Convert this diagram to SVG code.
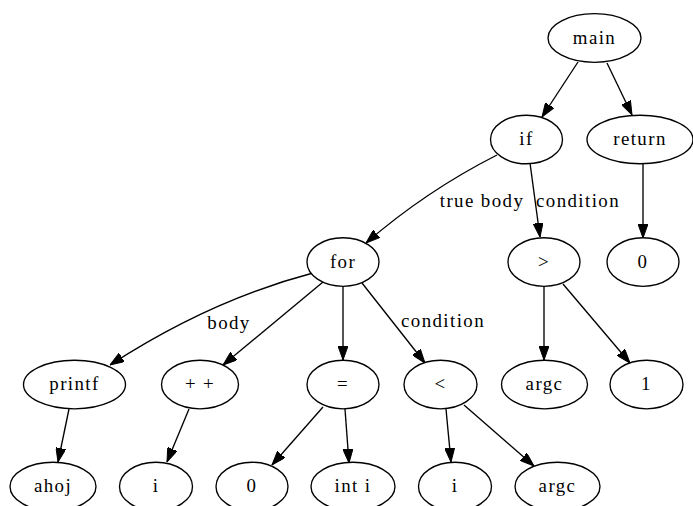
<svg xmlns="http://www.w3.org/2000/svg" width="693" height="506" viewBox="0 0 693 506">
<style>
.n ellipse{fill:#fff;stroke:#000;stroke-width:1.35}
.n text,.lbl{font-family:"Liberation Serif","Times New Roman",serif;font-size:18.9px;letter-spacing:1.4px;fill:#000}
.n text{text-anchor:middle}
.lbl{text-anchor:middle}
#edges path{fill:none;stroke:#000;stroke-width:1.35;marker-end:url(#ah)}
</style>
<defs>
<marker id="ah" markerUnits="userSpaceOnUse" viewBox="0 0 14 10" refX="14" refY="5" markerWidth="14" markerHeight="10" orient="auto">
<path d="M0,0 L14,5 L0,10 z" fill="#000" stroke="#000" stroke-width="1"/>
</marker>
</defs>
<rect width="693" height="506" fill="#fff"/>
<g id="edges">
<path d="M578,62 L542,117"/>
<path d="M607,63 L632,115"/>
<path d="M497,155 Q426,191 366,243"/>
<path d="M530,163 L540,237"/>
<path d="M643,163 L643,238"/>
<path d="M313,273 Q210,300 110,365"/>
<path d="M323,282 L223,365"/>
<path d="M343,286 L343,360"/>
<path d="M362,283 L425,363"/>
<path d="M544,286 L544,360"/>
<path d="M563,284 L630,363"/>
<path d="M69,409 L58,462"/>
<path d="M189,409 L167,462"/>
<path d="M323,407 L272,465"/>
<path d="M345,409 L349,463"/>
<path d="M446,409 L451,462"/>
<path d="M464,405 L534,466"/>
<text class="lbl" x="482" y="206.7">true body</text>
<text class="lbl" x="578" y="206.7">condition</text>
<text class="lbl" x="229" y="328.5">body</text>
<text class="lbl" x="443" y="327">condition</text>
</g>
<g id="main" class="n"><ellipse cx="594.5" cy="38" rx="46.5" ry="24.3"/><text x="594.5" y="43.5">main</text></g>
<g id="if" class="n"><ellipse cx="526.5" cy="139.5" rx="36" ry="24.3"/><text x="526.5" y="145">if</text></g>
<g id="return" class="n"><ellipse cx="640" cy="139.5" rx="53" ry="24.3"/><text x="640" y="145">return</text></g>
<g id="for" class="n"><ellipse cx="343" cy="262" rx="36" ry="24.3"/><text x="343" y="267.5">for</text></g>
<g id="gt" class="n"><ellipse cx="544" cy="262" rx="36" ry="24.3"/><text x="544" y="267.5">&gt;</text></g>
<g id="ret0" class="n"><ellipse cx="643" cy="262" rx="36" ry="24.3"/><text x="643" y="267.5">0</text></g>
<g id="printf" class="n"><ellipse cx="74.5" cy="384.5" rx="51" ry="24.3"/><text x="74.5" y="390">printf</text></g>
<g id="inc" class="n"><ellipse cx="200" cy="384.5" rx="38.5" ry="24.3"/><text x="200" y="390">+ +</text></g>
<g id="assign" class="n"><ellipse cx="343" cy="384.5" rx="36" ry="24.3"/><text x="343" y="390">=</text></g>
<g id="lt" class="n"><ellipse cx="440.5" cy="384.5" rx="36.5" ry="24.3"/><text x="440.5" y="390">&lt;</text></g>
<g id="argc1" class="n"><ellipse cx="544.5" cy="384.5" rx="43" ry="24.3"/><text x="544.5" y="390">argc</text></g>
<g id="one" class="n"><ellipse cx="646.5" cy="384.5" rx="36.5" ry="24.3"/><text x="646.5" y="390">1</text></g>
<g id="ahoj" class="n"><ellipse cx="53" cy="486.5" rx="43" ry="24.3"/><text x="53" y="492">ahoj</text></g>
<g id="i1" class="n"><ellipse cx="156" cy="486.5" rx="36.5" ry="24.3"/><text x="156" y="492">i</text></g>
<g id="zero" class="n"><ellipse cx="252" cy="486.5" rx="36" ry="24.3"/><text x="252" y="492">0</text></g>
<g id="inti" class="n"><ellipse cx="353" cy="486.5" rx="42" ry="24.3"/><text x="353" y="492">int i</text></g>
<g id="i2" class="n"><ellipse cx="455" cy="486.5" rx="36.5" ry="24.3"/><text x="455" y="492">i</text></g>
<g id="argc2" class="n"><ellipse cx="557.5" cy="486.5" rx="42.5" ry="24.3"/><text x="557.5" y="492">argc</text></g>
</svg>
